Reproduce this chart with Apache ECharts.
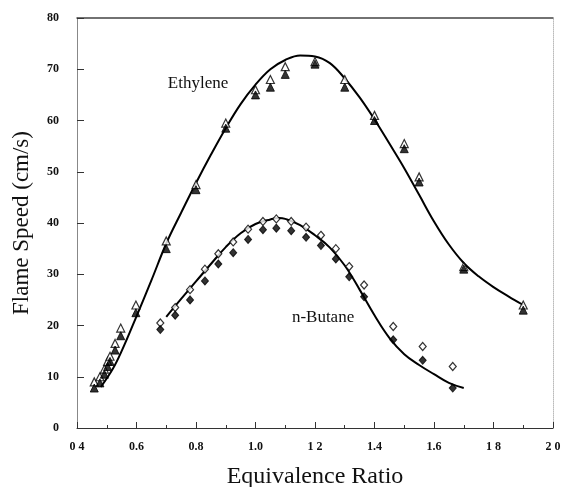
<!DOCTYPE html>
<html>
<head>
<meta charset="utf-8">
<script src="https://cdn.jsdelivr.net/npm/echarts@6/dist/echarts.min.js"></script>
<style>
  html, body { margin: 0; padding: 0; background: #fff; }
  #main { width: 563px; height: 487px; }
</style>
</head>
<body>
<div id="main"></div>
<script>
// tick labels as printed (some dots lost in the scan)
var xTickLabels = ['0 4', '0.6', '0.8', '1.0', '1 2', '1.4', '1.6', '1 8', '2 0'];

// Ethylene measured points
var ethX      = [0.458, 0.477, 0.492, 0.503, 0.511, 0.528, 0.547, 0.598, 0.70, 0.80, 0.90, 1.00, 1.05, 1.10, 1.20, 1.30, 1.40, 1.50, 1.55, 1.70, 1.90];
var ethOpen   = [9.0, 10.0, 11.5, 13.0, 14.0, 16.5, 19.5, 24.0, 36.5, 47.5, 59.5, 66.0, 68.0, 70.5, 71.5, 68.0, 61.0, 55.5, 49.0, 31.5, 24.0];
var ethFilled = [7.8, 8.8, 10.5, 12.0, 13.0, 15.2, 18.0, 22.5, 35.0, 46.5, 58.5, 65.0, 66.5, 69.0, 71.0, 66.5, 60.0, 54.5, 48.0, 31.0, 23.0];

// n-Butane measured points
var butX      = [0.68, 0.73, 0.78, 0.83, 0.875, 0.925, 0.975, 1.025, 1.07, 1.12, 1.17, 1.22, 1.27, 1.315, 1.365, 1.463, 1.562, 1.663];
var butOpen   = [20.5, 23.5, 27.0, 31.0, 34.0, 36.3, 38.8, 40.3, 40.8, 40.3, 39.2, 37.6, 35.0, 31.5, 27.9, 19.8, 15.9, 12.0];
var butFilled = [19.2, 22.0, 25.0, 28.7, 32.0, 34.2, 36.8, 38.7, 39.0, 38.5, 37.2, 35.6, 33.0, 29.5, 25.6, 17.2, 13.2, 7.8];

// fitted curves
var ethFitX = [0.48, 0.52, 0.55, 0.60, 0.65, 0.70, 0.75, 0.80, 0.85, 0.90, 0.95, 1.00, 1.05, 1.10, 1.15, 1.20, 1.25, 1.30, 1.35, 1.40, 1.45, 1.50, 1.55, 1.60, 1.65, 1.70, 1.75, 1.80, 1.85, 1.90];
var ethFitY = [8.0, 11.5, 15.0, 21.8, 28.8, 36.0, 42.0, 47.8, 53.3, 58.5, 63.2, 67.0, 70.0, 71.8, 72.7, 72.5, 71.2, 68.2, 64.5, 60.2, 55.5, 50.7, 45.5, 40.3, 35.8, 32.2, 29.6, 27.5, 25.7, 24.0];

var butFitX = [0.70, 0.75, 0.80, 0.85, 0.90, 0.95, 1.00, 1.05, 1.08, 1.10, 1.15, 1.20, 1.25, 1.30, 1.35, 1.40, 1.45, 1.50, 1.55, 1.60, 1.65, 1.70];
var butFitY = [21.7, 25.2, 28.6, 32.0, 35.3, 38.0, 39.8, 40.7, 41.0, 40.8, 39.6, 37.6, 35.2, 31.7, 27.0, 22.0, 17.6, 14.4, 12.3, 10.5, 8.8, 7.8];

function zip(xs, ys) {
  return xs.map(function (x, i) { return [x, ys[i]]; });
}

var serif = '"Liberation Serif", "DejaVu Serif", serif';
var openStyle = { color: '#fff', borderColor: '#000', borderWidth: 1.2 };
var filledStyle = { color: '#000', borderColor: '#000', borderWidth: 1 };

var myChart = echarts.init(document.getElementById('main'));

var option = {
  backgroundColor: '#fff',
  animation: false,
  grid: { left: 77, right: 10, top: 18, bottom: 59, outerBoundsMode: 'none', containLabel: false },
  xAxis: [{
    type: 'value',
    min: 0.4, max: 2.0, interval: 0.2,
    name: 'Equivalence Ratio',
    nameLocation: 'middle',
    nameGap: 37,
    nameTextStyle: { fontFamily: serif, fontSize: 24, color: '#111' },
    axisLine: { show: true, onZero: false, lineStyle: { color: '#333', width: 1 } },
    axisTick: { inside: true, length: 6, lineStyle: { color: '#333' } },
    minorTick: { show: true, splitNumber: 2, length: 3, lineStyle: { color: '#333' } },
    splitLine: { show: false },
    axisLabel: {
      margin: 13, fontFamily: serif, fontSize: 12, fontWeight: 'bold', color: '#111',
      formatter: function (v, i) { return xTickLabels[i]; }
    }
  }, {
    type: 'value', position: 'top',
    min: 0.4, max: 2.0,
    axisLine: { show: true, onZero: false, lineStyle: { color: '#444', width: 1.5 } },
    axisTick: { show: false }, axisLabel: { show: false }, splitLine: { show: false }
  }],
  yAxis: [{
    type: 'value',
    min: 0, max: 80, interval: 10,
    name: 'Flame Speed (cm/s)',
    nameLocation: 'middle',
    nameGap: 44,
    nameTextStyle: { fontFamily: serif, fontSize: 23, color: '#111' },
    axisLine: { show: true, onZero: false, lineStyle: { color: '#888', width: 1 } },
    axisTick: { inside: true, length: 7, lineStyle: { color: '#333' } },
    splitLine: { show: false },
    axisLabel: { margin: 18, fontFamily: serif, fontSize: 12, fontWeight: 'bold', color: '#111' }
  }, {
    type: 'value', position: 'right',
    min: 0, max: 80,
    axisLine: { show: true, onZero: false, lineStyle: { color: '#bbb', width: 1, type: 'dotted' } },
    axisTick: { show: false }, axisLabel: { show: false }, splitLine: { show: false }
  }],
  series: [
    {
      name: 'Ethylene fit', type: 'line', smooth: 0.4, symbol: 'none',
      lineStyle: { color: '#000', width: 2 },
      data: zip(ethFitX, ethFitY), z: 2
    },
    {
      name: 'n-Butane fit', type: 'line', smooth: 0.4, symbol: 'none',
      lineStyle: { color: '#000', width: 2 },
      data: zip(butFitX, butFitY), z: 2
    },
    {
      name: 'Ethylene open', type: 'scatter', symbol: 'triangle', symbolSize: [8, 8],
      itemStyle: openStyle, data: zip(ethX, ethOpen), z: 3
    },
    {
      name: 'Ethylene filled', type: 'scatter', symbol: 'triangle', symbolSize: [8, 8],
      itemStyle: filledStyle, data: zip(ethX, ethFilled), z: 4
    },
    {
      name: 'n-Butane open', type: 'scatter', symbol: 'diamond', symbolSize: [7, 8],
      itemStyle: openStyle, data: zip(butX, butOpen), z: 3
    },
    {
      name: 'n-Butane filled', type: 'scatter', symbol: 'diamond', symbolSize: [7, 8],
      itemStyle: filledStyle, data: zip(butX, butFilled), z: 4
    }
  ]
};

myChart.setOption(option);

// curve names, placed in data coordinates
var ethPos = myChart.convertToPixel({ gridIndex: 0 }, [0.807, 67.3]);
var butPos = myChart.convertToPixel({ gridIndex: 0 }, [1.227, 21.6]);
myChart.setOption({
  graphic: [
    {
      type: 'text', x: ethPos[0], y: ethPos[1],
      style: { text: 'Ethylene', font: '17px ' + serif, fill: '#111', align: 'center', verticalAlign: 'middle' }
    },
    {
      type: 'text', x: butPos[0], y: butPos[1],
      style: { text: 'n-Butane', font: '17px ' + serif, fill: '#111', align: 'center', verticalAlign: 'middle' }
    }
  ]
});
</script>
</body>
</html>
